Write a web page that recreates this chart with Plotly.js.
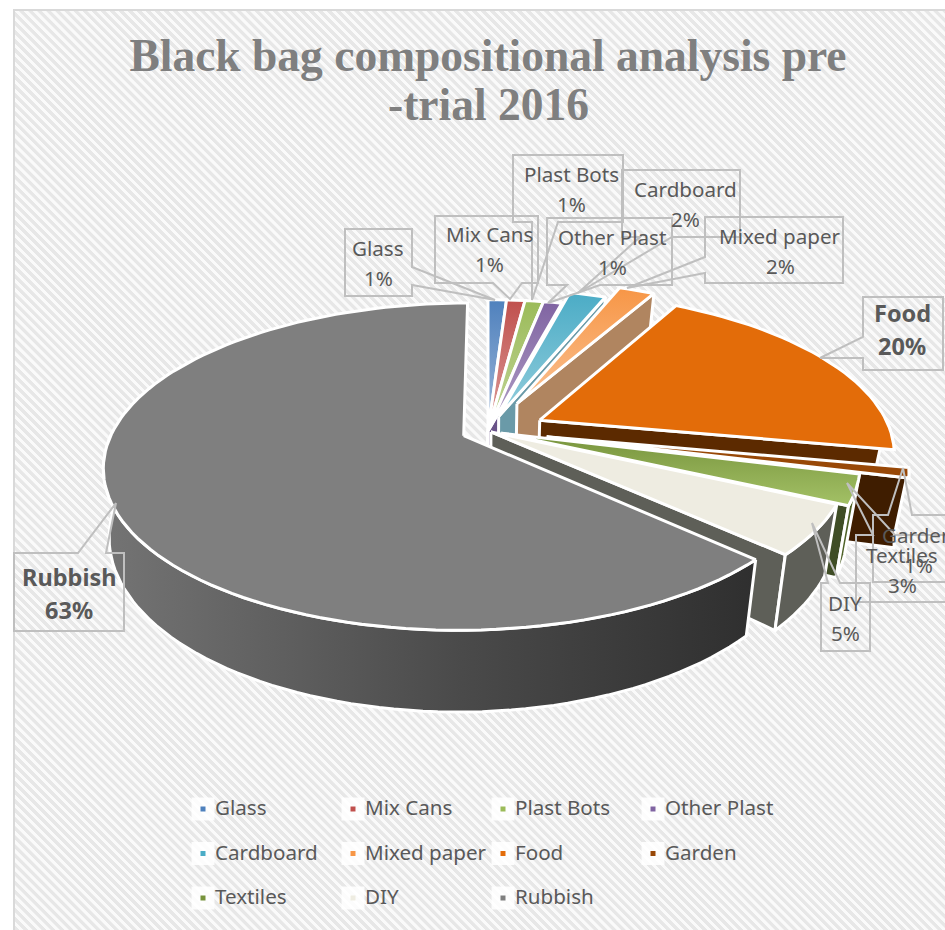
<!DOCTYPE html>
<html>
<head>
<meta charset="utf-8">
<script src="https://cdn.plot.ly/plotly-3.0.0.min.js"></script>
<style>
  html, body { margin: 0; padding: 0; background: #fff; width: 945px; height: 930px; overflow: hidden; }
  #frame { position: absolute; left: 13px; top: 9px; width: 932px; height: 921px; box-sizing: border-box;
           border-left: 2px solid #d9d9d9; border-top: 2px solid #d9d9d9;
           background: repeating-linear-gradient(45deg, #e7e7e7 0, #e7e7e7 3px, #fafafa 3.4px, #fafafa 6px, #e7e7e7 6.4px); }
  #chart { position: absolute; left: 0; top: 0; width: 945px; height: 930px; }
</style>
</head>
<body>
<div id="frame"></div>
<div id="chart"></div>
<script>
// Waste stream shares, in percent, clockwise from twelve o'clock
const categories = ['Glass', 'Mix Cans', 'Plast Bots', 'Other Plast', 'Cardboard', 'Mixed paper',
                    'Food', 'Garden', 'Textiles', 'DIY', 'Rubbish'];
const percents = [1, 1, 1, 1, 2, 2, 20, 1, 3, 5, 63];

// How far each slice is pulled out of the pie, as a share of the radius
const slicePull = [0, 0, 0, 0, 0.1, 0.2, 0.165, 0.17, 0.04, 0.01, 0.075];

// Face, light end of the face gradient, radial wall and rim wall colours
const faceColors  = ['#4f81bd', '#c0504d', '#9bbb59', '#8064a2', '#4bacc6', '#f79646', '#e36c09', '#984807', '#77933c', '#eeece1', '#7f7f7f'];
const faceLight   = ['#a0b9da', '#dc9e9c', '#c3d69b', '#b2a1c7', '#92cddc', '#fac090', '#e36c09', '#984807', '#a3c166', '#eeece1', '#7f7f7f'];
const wallColors  = ['#3d6390', '#8f3c3a', '#76903f', '#6a5389', '#6a9aa8', '#b08560', '#5c2a00', '#3f1d00', '#3f4d26', '#5e5f58', '#5e5f58'];
const rimColors   = ['#3d6390', '#8f3c3a', '#76903f', '#6a5389', '#31859c', '#b08560', '#5c2a00', '#3f1d00', '#4f6228', '#5e5f58', '#5e5f58'];
// Slices whose cut wall and rim wall read as one dark surface
const seamlessWalls = ['Food', 'Garden'];

// Callout boxes: left, top, right, bottom, the pointer's base and its tip
const calloutBoxes = [
  { box: [345, 229, 412, 296], base: [[412, 267], [412, 285]], tip: [495, 300] },
  { box: [435, 216, 538, 283], base: [[493, 283], [522, 283]], tip: [510, 299] },
  { box: [513, 155, 623, 222], base: [[532, 222], [558, 222]], tip: [532, 300] },
  { box: [547, 218, 672, 285], base: [[567, 285], [600, 285]], tip: [548, 303] },
  { box: [622, 170, 740, 237], base: [[640, 237], [672, 237]], tip: [578, 293] },
  { box: [705, 217, 843, 283], base: [[705, 257], [705, 273]], tip: [627, 288] },
  { box: [863, 297, 943, 370], base: [[863, 337], [863, 358]], tip: [820, 358] },
  { box: [873, 515, 963, 582], base: [[888, 515], [912, 515]], tip: [903, 468] },
  { box: [856, 535, 960, 602], base: [[873, 535], [895, 535]], tip: [847, 483] },
  { box: [821, 583, 870, 651], base: [[828, 583], [840, 583]], tip: [812, 523] },
  { box: [14, 553, 124, 631], base: [[78, 553], [106, 553]], tip: [116, 503] }
];
const labelCentres = [[378, 248], [489, 234], [571, 174], [612, 237], [685, 189], [780, 236],
                      [902, 313], [918, 535], [902, 555], [845, 603], [69, 577]];
const labelBold = ['Food', 'Rubbish'];

// Projection of the tilted disc onto the page
const centreX = 488, centreY = 431, radiusX = 351, radiusY = 156, perspective = 0.188, depth = 66;
const baseNarrowRight = 0.965, baseNarrowLeft = 0.985, LABEL_GAP = 30;

function project(wx, wy, drop) {
  const s = 1 / (1 - perspective * wy);
  const narrow = 1 - (1 - (wx > 0 ? baseNarrowRight : baseNarrowLeft)) * drop;
  return [centreX + radiusX * wx * s * narrow, centreY + (radiusY * wy + drop * depth) * s];
}
function rimPoint(deg, pull, midDeg, drop) {
  const a = deg * Math.PI / 180, m = midDeg * Math.PI / 180;
  return project(Math.sin(a) + pull * Math.sin(m), -Math.cos(a) - pull * Math.cos(m), drop);
}
function apexPoint(pull, midDeg, drop) {
  const m = midDeg * Math.PI / 180;
  return project(pull * Math.sin(m), -pull * Math.cos(m), drop);
}
function arc(from, to, pull, midDeg, drop) {
  const pts = [], n = Math.max(2, Math.ceil((to - from) / 2));
  for (let i = 0; i <= n; i++) pts.push(rimPoint(from + (to - from) * i / n, pull, midDeg, drop));
  return pts;
}
function polygon(pts, style) {
  const closed = pts.concat([pts[0]]);
  return Object.assign({
    type: 'scatter', mode: 'lines', x: closed.map(p => p[0]), y: closed.map(p => p[1]),
    fill: 'toself', line: { color: '#ffffff', width: 3, shape: 'linear' },
    hoverinfo: 'skip', showlegend: false
  }, style);
}

const traces = [];
let running = 0;
categories.forEach((name, i) => {
  const start = running * 3.6, end = (running + percents[i]) * 3.6, mid = (start + end) / 2;
  running += percents[i];
  const pull = slicePull[i];
  const rimFrom = Math.max(start, 90), rimTo = Math.min(end, 272);
  const hasRim = rimTo > rimFrom;

  if (seamlessWalls.includes(name) && hasRim) {
    // Cut wall and rim wall traced as a single outline
    const outline = [apexPoint(pull, mid, 0)]
      .concat(arc(rimFrom, rimTo, pull, mid, 0).reverse())
      .concat(arc(rimFrom, rimTo, pull, mid, 1))
      .concat([apexPoint(pull, mid, 1)]);
    traces.push(polygon(outline, { fillcolor: wallColors[i] }));
  } else {
    // Cut wall on the clockwise side, visible on the right half of the pie only
    if (end < 180) {
      const edgeTop = [apexPoint(pull, mid, 0), rimPoint(end, pull, mid, 0)];
      const edgeBottom = [rimPoint(end, pull, mid, 1), apexPoint(pull, mid, 1)];
      traces.push(polygon(edgeTop.concat(edgeBottom), { fillcolor: wallColors[i] }));
    }
    // Outer wall, on the part of the rim that faces the viewer
    if (hasRim) {
      const band = arc(rimFrom, rimTo, pull, mid, 0).concat(arc(rimFrom, rimTo, pull, mid, 1).reverse());
      const style = name === 'Rubbish'
        ? { fillgradient: { type: 'horizontal', colorscale: [[0, '#747474'], [0.55, '#4a4a4a'], [1, '#2f2f2f']] } }
        : { fillcolor: rimColors[i] };
      traces.push(polygon(band, style));
    }
  }

  // Top face
  const face = [apexPoint(pull, mid, 0)].concat(arc(start, end, pull, mid, 0));
  const style = faceColors[i] === faceLight[i]
    ? { fillcolor: faceColors[i] }
    : { fillgradient: { type: 'vertical', colorscale: [[0, faceLight[i]], [1, faceColors[i]]] } };
  traces.push(polygon(face, style));
});

// Legend grid: four columns of three rows, each entry a small swatch on a pale patch
const legendX = categories.map((_, i) => 203 + 150 * (i % 4));
const legendY = categories.map((_, i) => 809 + 44.5 * Math.floor(i / 4));
traces.push({
  type: 'scatter', mode: 'markers', x: legendX, y: legendY, hoverinfo: 'skip', showlegend: false,
  marker: { symbol: 'square', size: 23, color: 'rgba(255,255,255,0.85)' }
});
traces.push({
  type: 'scatter', mode: 'markers', x: legendX, y: legendY, hoverinfo: 'skip', showlegend: false,
  marker: { symbol: 'square', size: 5, color: faceColors }
});
traces.push({
  type: 'scatter', mode: 'text', x: legendX.map(v => v + 12), y: legendY.map(v => v + 1), text: categories,
  textposition: 'middle right', hoverinfo: 'skip', showlegend: false,
  textfont: { family: '"Noto Sans", sans-serif', size: 20.6, color: '#595959' }
});

// Callout outlines, walking round the box and out to the pointer tip
const shapes = calloutBoxes.map(c => {
  const [l, t, r, b] = c.box;
  const [b1, b2] = c.base;
  let path;
  if (b1[1] === b) {          // pointer leaves the bottom side
    path = `M${l},${t}L${r},${t}L${r},${b}L${b2[0]},${b}L${c.tip[0]},${c.tip[1]}L${b1[0]},${b}L${l},${b}Z`;
  } else if (b1[1] === t) {   // pointer leaves the top side
    path = `M${l},${b}L${l},${t}L${b1[0]},${t}L${c.tip[0]},${c.tip[1]}L${b2[0]},${t}L${r},${t}L${r},${b}Z`;
  } else if (b1[0] === l) {   // pointer leaves the left side
    path = `M${l},${t}L${r},${t}L${r},${b}L${l},${b}L${l},${b2[1]}L${c.tip[0]},${c.tip[1]}L${l},${b1[1]}Z`;
  } else {                    // pointer leaves the right side
    path = `M${l},${t}L${r},${t}L${r},${b1[1]}L${c.tip[0]},${c.tip[1]}L${r},${b2[1]}L${r},${b}L${l},${b}Z`;
  }
  return { type: 'path', path, xref: 'x', yref: 'y', layer: 'above',
           line: { color: '#bfbfbf', width: 2 }, fillcolor: 'rgba(0,0,0,0)' };
});

// Each data label is two centred lines, name over percentage
const annotations = [];
categories.forEach((name, i) => {
  const [x, y] = labelCentres[i];
  const bold = labelBold.includes(name);
  const font = { family: '"Noto Sans", sans-serif', size: bold ? 23.5 : 20.6, color: '#595959', weight: bold ? 700 : 400 };
  annotations.push({ x, y, text: name, showarrow: false, xref: 'x', yref: 'y', font, xanchor: 'center', yanchor: 'middle' });
  annotations.push({ x, y: y + LABEL_GAP + (bold ? 3 : 0), text: percents[i] + '%', showarrow: false, xref: 'x', yref: 'y', font, xanchor: 'center', yanchor: 'middle' });
});
const titleFont = { family: '"Liberation Serif", serif', size: 45.5, color: '#7f7f7f', weight: 700 };
annotations.push({ x: 488, y: 104, text: '-trial 2016', showarrow: false, xref: 'x', yref: 'y', font: titleFont, xanchor: 'center', yanchor: 'middle' });

const layout = {
  width: 945, height: 930,
  margin: { l: 0, r: 0, t: 0, b: 0 },
  paper_bgcolor: 'rgba(0,0,0,0)', plot_bgcolor: 'rgba(0,0,0,0)',
  title: { text: 'Black bag compositional analysis pre', font: titleFont,
           x: 488 / 945, xanchor: 'center', xref: 'paper', y: 1 - 55 / 930, yanchor: 'middle', yref: 'container' },
  xaxis: { range: [0, 945], visible: false, fixedrange: true },
  yaxis: { range: [930, 0], visible: false, fixedrange: true },
  showlegend: false, hovermode: false, shapes, annotations
};

Plotly.newPlot('chart', traces, layout, { displayModeBar: false, staticPlot: true });
</script>
</body>
</html>
